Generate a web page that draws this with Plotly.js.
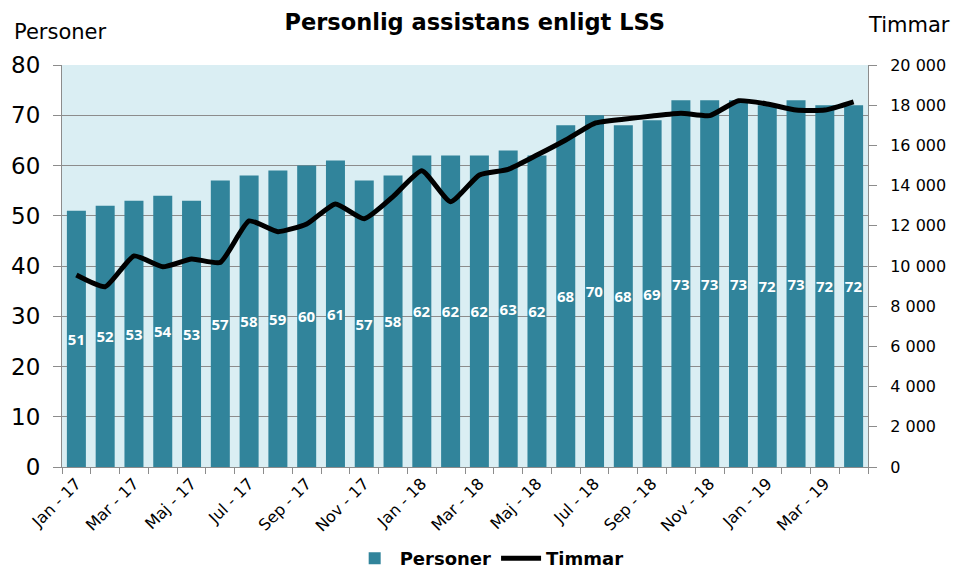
<!DOCTYPE html>
<html>
<head>
<meta charset="utf-8">
<script src="https://cdn.plot.ly/plotly-3.0.1.min.js"></script>
<style>html,body{margin:0;padding:0;background:#fff;}#chart{width:959px;height:574px;}</style>
</head>
<body>
<div id="chart"></div>
<script>
const months = ["Jan - 17","Feb - 17","Mar - 17","Apr - 17","Maj - 17","Jun - 17","Jul - 17","Aug - 17","Sep - 17","Okt - 17","Nov - 17","Dec - 17",
  "Jan - 18","Feb - 18","Mar - 18","Apr - 18","Maj - 18","Jun - 18","Jul - 18","Aug - 18","Sep - 18","Okt - 18","Nov - 18","Dec - 18",
  "Jan - 19","Feb - 19","Mar - 19","Apr - 19"];
const personer = [51,52,53,54,53,57,58,59,60,61,57,58,62,62,62,63,62,68,70,68,69,73,73,73,72,73,72,72];
const timmar = [9550,8970,10500,9960,10350,10180,12240,11710,12090,13090,12350,13450,14740,13200,14530,14810,15520,16270,17100,17300,17460,17600,17480,18220,18060,17760,17760,18170];
const tickLabels = months.map((m, i) => i % 2 === 0 ? m : "");

const barColor = "#31849B";
const gridColor = "#8C8C8C";

const traces = [
  {
    type: "bar", name: "Personer", x: months, y: personer,
    marker: {color: barColor},
    text: personer.map(String), textposition: "inside", insidetextanchor: "middle",
    textfont: {family: "Open Sans", size: 15, color: "#ffffff", weight: "bold"},
    constraintext: "none", cliponaxis: false,
    hoverinfo: "x+y"
  },
  {
    type: "scatter", mode: "lines", name: "Timmar", x: months, y: timmar, yaxis: "y2",
    line: {color: "#000000", width: 5, shape: "spline", smoothing: 0.5}
  }
];

const layout = {
  width: 959, height: 574,
  margin: {l: 62, r: 91, t: 65, b: 107},
  paper_bgcolor: "#ffffff",
  plot_bgcolor: "#DAEEF3",
  separators: ", ",
  bargap: 0.34,
  showlegend: true,
  legend: {orientation: "h", x: 0.53, xanchor: "center", xref: "paper", yref: "container", y: 0.027, yanchor: "middle",
    font: {family: "DejaVu Sans", size: 18, color: "#000", weight: "bold"}, itemwidth: 40, tracegroupgap: 0},
  title: {text: "Personlig assistans enligt LSS", x: 0.495, xanchor: "center", y: 0.962, yanchor: "middle",
    font: {family: "DejaVu Sans", size: 22.5, color: "#000", weight: "bold"}},
  xaxis: {
    type: "category", tickmode: "array", tickvals: months, ticktext: tickLabels,
    tickson: "boundaries", ticks: "outside", ticklen: 6, tickcolor: gridColor,
    showline: true, linecolor: gridColor, linewidth: 1, automargin: false,
    tickangle: -45, tickfont: {family: "DejaVu Sans", size: 16, color: "#000"},
    showgrid: false, zeroline: false
  },
  yaxis: {
    range: [0, 80], dtick: 10, tick0: 0, automargin: false,
    ticks: "outside", ticklen: 8, tickcolor: gridColor, ticklabelstandoff: 8,
    showline: true, linecolor: gridColor, linewidth: 1,
    showgrid: true, gridcolor: gridColor, gridwidth: 1, zeroline: false,
    tickfont: {family: "DejaVu Sans", size: 23, color: "#000"}
  },
  yaxis2: {
    overlaying: "y", side: "right", range: [0, 20000], dtick: 2000, tick0: 0,
    tickformat: ",d", automargin: false,
    ticks: "outside", ticklen: 8, tickcolor: gridColor, ticklabelstandoff: 10,
    showline: true, linecolor: gridColor, linewidth: 1,
    showgrid: false, zeroline: false,
    tickfont: {family: "DejaVu Sans", size: 16, color: "#000"}
  },
  annotations: [
    {text: "Personer", xref: "paper", yref: "paper", x: -0.062, xanchor: "left", y: 1.083, yanchor: "middle",
      showarrow: false, font: {family: "DejaVu Sans", size: 21, color: "#000"}},
    {text: "Timmar", xref: "paper", yref: "paper", x: 0.997, xanchor: "left", y: 1.1, yanchor: "middle",
      showarrow: false, font: {family: "DejaVu Sans", size: 21, color: "#000"}}
  ]
};

Plotly.newPlot("chart", traces, layout, {displayModeBar: false, staticPlot: true});
</script>
</body>
</html>
